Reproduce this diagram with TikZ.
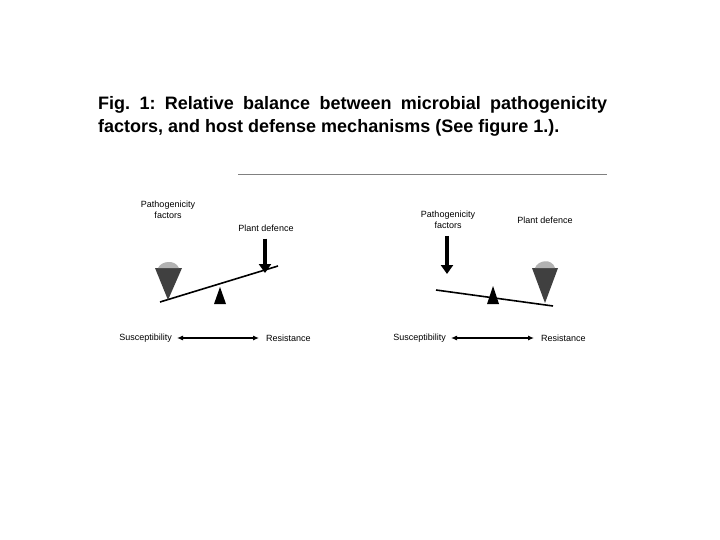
\documentclass[tikz,border=0pt]{standalone}
\usepackage{fontspec}
\setmainfont{Liberation Sans}
\usetikzlibrary{arrows.meta}
\tikzset{
  lbl/.style={font=\fontsize{9}{10.5}\selectfont, inner sep=1pt, align=center},
  beam/.style={line width=1.6pt},
  push/.style={-{Triangle[length=9pt,width=12pt]}, line width=3.5pt},
  spanarrow/.style={{Latex[length=6pt,width=5pt]}-{Latex[length=6pt,width=5pt]}, line width=1.1pt, shorten <=4pt, shorten >=6pt},
}
\frenchspacing
\begin{document}
\begin{tikzpicture}[x=1pt,y=-1pt]
		\useasboundingbox[fill=white] (0,0) rectangle (720,540);
		% caption
		\node[anchor=north west, inner sep=0pt, text width=509pt, align=justify, font=\bfseries\fontsize{18}{23}\selectfont] (title) at (98,96)
		{Fig. 1: Relative balance between microbial pathogenicity\linebreak factors, and host defense mechanisms (See figure 1.).};
		\draw[gray, line width=0.6pt] (238,174) -- (607,174);
		% left balance
		\node[lbl] (pfl) at (168,210) {Pathogenicity\\factors};
		\node[lbl] (pdl) at (266,228) {Plant defence};
		\coordinate (pdltip) at (265,273);
		\draw[push] (pdl.south -| pdltip) ++(0,6) -- (pdltip);
		\draw[beam] (160,302) -- (278,266);
		\fill (214,304) -- (220,287) -- (226,304) -- cycle;
		\fill[black!75] (155,268) -- (182,268) -- (168,300) -- cycle;
		\fill[black!30] (158,268) .. controls (161,261) and (175,259) .. (179,268) -- cycle;
		\node[lbl, anchor=east] (susl) at (173,338) {Susceptibility};
		\node[lbl, anchor=west] (resl) at (265,338) {Resistance};
		\draw[spanarrow] (susl) -- (resl);
		% right balance
		\node[lbl] (pfr) at (448,220) {Pathogenicity\\factors};
		\node[lbl] (pdr) at (545,220) {Plant defence};
		\coordinate (pfrtip) at (447,274);
		\draw[push] (pfr.south -| pfrtip) ++(0,6) -- (pfrtip);
		\draw[beam] (436,290) -- (553,306);
		\fill (487,304) -- (493,286) -- (499,304) -- cycle;
		\fill[black!75] (532,268) -- (558,268) -- (545,303) -- cycle;
		\fill[black!30] (535,268) .. controls (538,260) and (552,258) .. (555,268) -- cycle;
		\node[lbl, anchor=east] (susr) at (447,338) {Susceptibility};
		\node[lbl, anchor=west] (resr) at (540,338) {Resistance};
		\draw[spanarrow] (susr) -- (resr);
\end{tikzpicture}
\end{document}
